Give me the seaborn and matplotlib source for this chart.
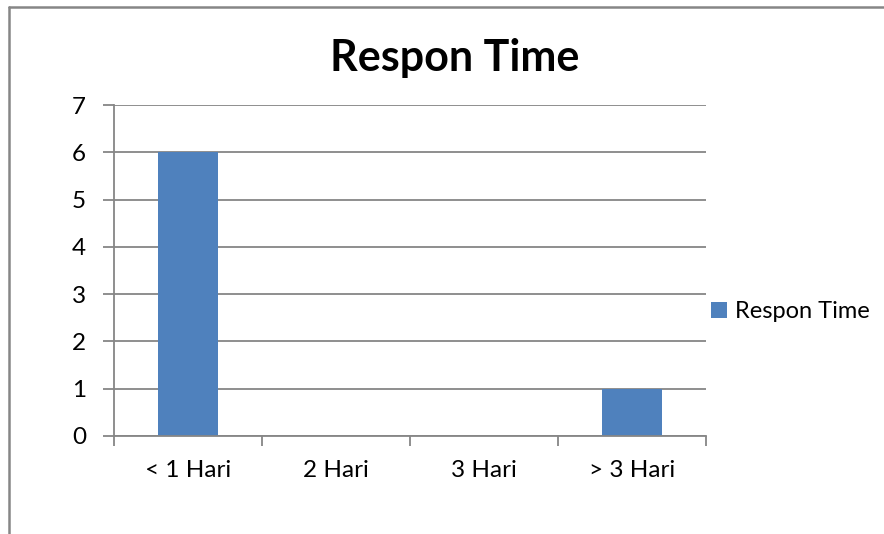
import matplotlib
matplotlib.use("Agg")
import matplotlib.pyplot as plt
from matplotlib.lines import Line2D
from matplotlib.patches import Patch
import seaborn as sns
import pandas as pd

categories = ["< 1 Hari", "2 Hari", "3 Hari", "> 3 Hari"]
values = [6, 0, 0, 1]
series_name = "Respon Time"
y_ticks = [0, 1, 2, 3, 4, 5, 6, 7]

sns.set_style("white")
plt.rcParams["font.family"] = ["Lato", "DejaVu Sans"]
plt.rcParams["text.color"] = "black"

BAR = "#4F81BD"
GRID = "#868686"

df = pd.DataFrame({"cat": categories, "val": values})

fig = plt.figure(figsize=(8.84, 5.34), dpi=100)
ax = fig.add_axes([114 / 884, 1 - 436 / 534, (706 - 114) / 884, (436 - 105) / 534])

sns.barplot(data=df, x="cat", y="val", color=BAR, width=0.4, saturation=1,
            linewidth=0, edgecolor="none", ax=ax, zorder=3)

ax.set_xlim(-0.5, len(categories) - 0.5)
ax.set_ylim(0, 7)
ax.set_yticks(y_ticks)
ax.set_xlabel("")
ax.set_ylabel("")

ax.yaxis.grid(True, color=GRID, linewidth=1.3, zorder=0)
ax.xaxis.grid(False)
for s in ["top", "right"]:
    ax.spines[s].set_visible(False)
for s in ["left", "bottom"]:
    ax.spines[s].set_color(GRID)
    ax.spines[s].set_linewidth(1.3)
    ax.spines[s].set_zorder(4)

ax.tick_params(axis="y", direction="out", length=8, width=1.3, color=GRID,
               labelsize=17.5, labelcolor="black", pad=12, left=True)
ax.tick_params(axis="x", which="major", length=0, labelsize=17.5,
               labelcolor="black", pad=17)
ax.set_xticks([i - 0.5 for i in range(len(categories) + 1)], minor=True)
ax.tick_params(axis="x", which="minor", direction="out", length=7, width=1.3,
               color=GRID, bottom=True)

fig.text(455 / 884, 1 - 58 / 534, "Respon Time", ha="center", va="center",
         fontsize=31, fontweight="bold", color="black")

fig.legend(handles=[Patch(facecolor=BAR, edgecolor="none", label=series_name)],
           loc="center left", bbox_to_anchor=(690 / 884, 1 - 312 / 534),
           frameon=False, fontsize=17, handlelength=0.65, handleheight=0.65,
           handletextpad=0.35, labelcolor="black")

# outer chart frame
fig.add_artist(Line2D([8.5 / 884, 1.0], [1 - 6.5 / 534] * 2, color=GRID,
                      linewidth=1.8, transform=fig.transFigure))
fig.add_artist(Line2D([8.5 / 884] * 2, [0.0, 1 - 6.5 / 534], color=GRID,
                      linewidth=1.8, transform=fig.transFigure))

fig.savefig("out.png", dpi=100)
